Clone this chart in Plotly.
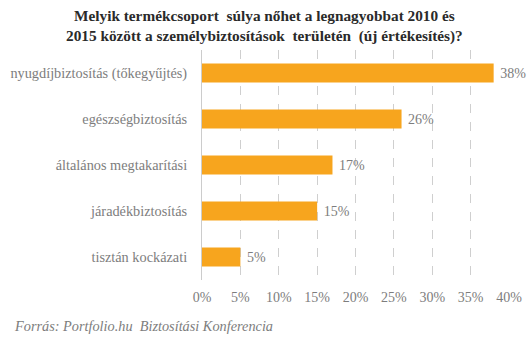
import plotly.graph_objects as go

categories = [
    "nyugdíjbiztosítás (tőkegyűjtés)",
    "egészségbiztosítás",
    "általános megtakarítási",
    "járadékbiztosítás",
    "tisztán kockázati",
]
values = [38, 26, 17, 15, 5]
tick_vals = [0, 5, 10, 15, 20, 25, 30, 35, 40]
tick_text = [f"{v}%" for v in tick_vals]

title_text = ("<b>Melyik termékcsoport  súlya nőhet a legnagyobbat 2010 és<br>"
              "2015 között a személybiztosítások  területén  (új értékesítés)?</b>")
source_text = "<i>Forrás: Portfolio.hu  Biztosítási Konferencia</i>"

FONT = "Liberation Serif"
GRAY = "#7d7d7d"

# plot area geometry in pixels (used to place paper-referenced annotations)
M_L, M_R, M_T, M_B = 202, 22, 50, 62
W, H = 531, 342
PW, PH = W - M_L - M_R, H - M_T - M_B

fig = go.Figure(
    go.Bar(
        x=values,
        y=categories,
        orientation="h",
        marker=dict(color="#F7A51E", line=dict(width=0)),
        text=[f"\u00a0{v}%" for v in values],
        textposition="outside",
        textfont=dict(family=FONT, size=14, color=GRAY),
        cliponaxis=False,
        width=0.41,
    )
)

fig.update_layout(
    width=W,
    height=H,
    margin=dict(l=M_L, r=M_R, t=M_T, b=M_B, autoexpand=False),
    paper_bgcolor="white",
    plot_bgcolor="white",
    showlegend=False,
    xaxis=dict(
        range=[0, 40],
        tickvals=tick_vals,
        ticktext=tick_text,
        tickfont=dict(family=FONT, size=14, color=GRAY),
        ticklabelstandoff=7,
        showgrid=True,
        gridcolor="#cfcfcf",
        griddash="dash",
        gridwidth=1,
        zeroline=False,
        showline=False,
        ticks="",
        automargin=False,
        fixedrange=True,
    ),
    yaxis=dict(
        autorange="reversed",
        tickfont=dict(family=FONT, size=14.3, color=GRAY),
        showline=True,
        linecolor="#cccccc",
        linewidth=1,
        ticks="outside",
        ticklen=11,
        tickcolor="rgba(0,0,0,0)",
        showgrid=False,
        zeroline=False,
        automargin=False,
        fixedrange=True,
    ),
    annotations=[
        dict(
            text=title_text,
            xref="paper",
            yref="paper",
            x=(264 - M_L) / PW,
            xanchor="center",
            y=(H - M_B - 5) / PH,
            yanchor="top",
            align="center",
            showarrow=False,
            font=dict(family=FONT, size=15.3, color="#2a2a2a"),
        ),
        dict(
            text=source_text,
            xref="paper",
            yref="paper",
            x=(12 - M_L) / PW,
            xanchor="left",
            y=(H - M_B - 316) / PH,
            yanchor="top",
            showarrow=False,
            font=dict(family=FONT, size=14.3, color=GRAY),
        ),
    ],
)

fig.write_html("out.html")
